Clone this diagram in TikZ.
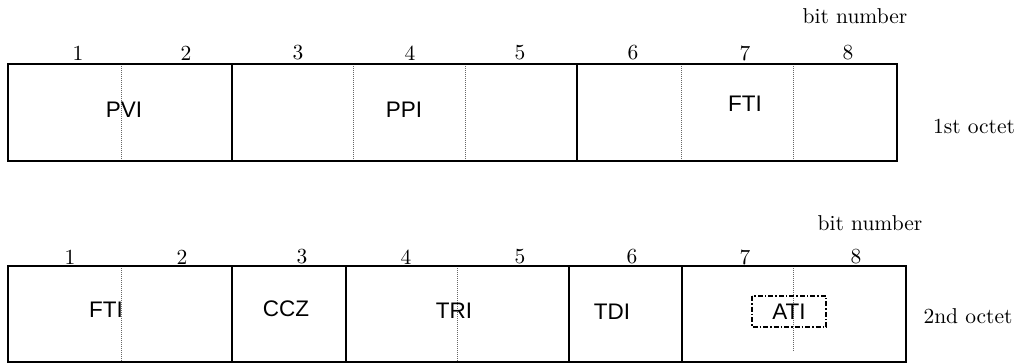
\documentclass[tikz,border=0pt]{standalone}
\usepackage{fontspec}
\setmainfont{lmroman10-regular}[Extension=.otf]
\newfontfamily\fieldfont{Liberation Sans}
\usepackage{tikz}
\usetikzlibrary{positioning}
\tikzset{
  octet/.style  = {draw=black, line width=2.8pt},
  bitline/.style= {draw=black!60, line width=1pt, dash pattern=on 1pt off 1pt},
  field/.style  = {font=\fieldfont\fontsize{22.5}{26}\selectfont, inner sep=0pt},
  bitno/.style  = {font=\fontsize{21.5}{25}\selectfont, inner sep=0pt},
  side/.style   = {font=\fontsize{21.5}{25}\selectfont, inner sep=0pt, anchor=base},
  atibox/.style = {draw=black, line width=1.8pt, dash pattern=on 5pt off 2pt on 1.5pt off 2pt}
}

\begin{document}
\begin{tikzpicture}[x=1pt, y=-1pt]
  \useasboundingbox (0,0) rectangle (1016,363);

  % 1st octet
  \foreach \x in {121,353,465,681,793} \draw[bitline] (\x,64) -- (\x,161);
  \draw[octet] (8,64) rectangle (232,161);
  \draw[octet] (232,64) rectangle (577,161);
  \draw[octet] (577,64) rectangle (897,161);
  \foreach \x [count=\i] in {78,186,298,410,520,633,745,848}
    \node[bitno] (ta\i) at (\x,53) {\i};
  \node[field] (pvi) at (124,110) {PVI};
  \node[field] (ppi) at (404,110) {PPI};
  \node[field] (ftia) at (745,104) {FTI};
  \node[side] (bna) at (855,24) {bit number};
  \node[side] (oa) at (974,134) {1st octet};

  % 2nd octet
  \foreach \x in {121,457} \draw[bitline] (\x,266) -- (\x,362);
  \draw[bitline] (793,266) -- (793,352);
  \draw[octet] (8,266) rectangle (232,362);
  \draw[octet] (232,266) rectangle (346,362);
  \draw[octet] (346,266) rectangle (569,362);
  \draw[octet] (569,266) rectangle (682,362);
  \draw[octet] (682,266) rectangle (906,362);
  \foreach \x [count=\i] in {70,182,302,406,520,632,745,856}
    \node[bitno] (tb\i) at (\x,257) {\i};
  \node[field] (ftib) at (106,310) {FTI};
  \node[field] (ccz) at (286,309) {CCZ};
  \node[field] (tri) at (454,311) {TRI};
  \node[field] (tdi) at (612,312) {TDI};
  \node[field] (ati) at (789,312) {ATI};
  \draw[atibox] (752,296) rectangle (826,327);
  \node[side] (bnb) at (870,230) {bit number};
  \node[side] (ob) at (968,323) {2nd octet};
\end{tikzpicture}
\end{document}
